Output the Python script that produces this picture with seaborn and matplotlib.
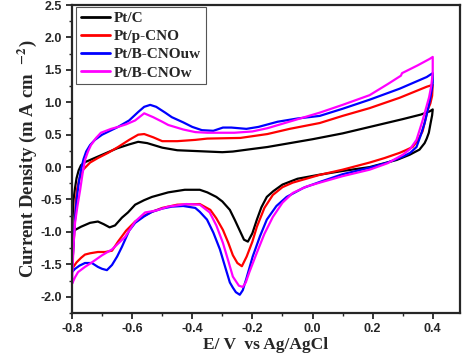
import matplotlib
matplotlib.use("Agg")
import matplotlib.pyplot as plt
from matplotlib.ticker import MultipleLocator, FormatStrFormatter
import pandas as pd
import seaborn as sns

# cyclic voltammograms, potential (V vs Ag/AgCl) and current density (mA cm-2)
# each loop: forward scan -0.8 -> 0.4, then reverse scan back to -0.8
ptc_e = [-0.800, -0.798, -0.795, -0.790, -0.785, -0.778, -0.770, -0.755, -0.740, -0.700,
         -0.650, -0.610, -0.580, -0.550, -0.500, -0.450, -0.400, -0.350, -0.300, -0.265,
         -0.200, -0.150, -0.075, 0.000, 0.100, 0.200, 0.300, 0.360, 0.390, 0.400,
         # reverse
         0.398, 0.393, 0.387, 0.380, 0.373, 0.356, 0.323, 0.280, 0.190, 0.100,
         0.020, -0.050, -0.100, -0.130, -0.152, -0.170, -0.185, -0.200, -0.215, -0.228,
         -0.240, -0.258, -0.275, -0.300, -0.320, -0.350, -0.375, -0.425, -0.480, -0.534,
         -0.560, -0.590, -0.614, -0.634, -0.657, -0.675, -0.695, -0.714, -0.740, -0.770,
         -0.790, -0.800]
ptc_j = [-1.02, -0.75, -0.50, -0.32, -0.17, -0.05, 0.03, 0.08, 0.11, 0.19,
         0.29, 0.35, 0.39, 0.37, 0.30, 0.26, 0.25, 0.24, 0.23, 0.24,
         0.28, 0.31, 0.37, 0.43, 0.52, 0.63, 0.74, 0.81, 0.86, 0.89,
         0.80, 0.68, 0.53, 0.44, 0.37, 0.27, 0.19, 0.11, 0.00, -0.06,
         -0.12, -0.18, -0.27, -0.37, -0.46, -0.62, -0.81, -1.02, -1.15, -1.12,
         -1.00, -0.82, -0.66, -0.53, -0.46, -0.39, -0.35, -0.35, -0.39, -0.46,
         -0.51, -0.58, -0.70, -0.78, -0.90, -0.93, -0.88, -0.84, -0.86, -0.92,
         -0.97, -1.02]

pcno_e = [-0.800, -0.797, -0.793, -0.790, -0.787, -0.783, -0.775, -0.763, -0.740, -0.714,
          -0.680, -0.647, -0.610, -0.580, -0.560, -0.530, -0.500, -0.450, -0.390, -0.350,
          -0.240, -0.150, -0.076, 0.024, 0.100, 0.190, 0.290, 0.380, 0.400,
          # reverse
          0.398, 0.392, 0.383, 0.373, 0.366, 0.350, 0.333, 0.310, 0.290, 0.240,
          0.190, 0.100, 0.024, -0.066, -0.100, -0.132, -0.160, -0.185, -0.200, -0.219,
          -0.235, -0.250, -0.265, -0.280, -0.298, -0.320, -0.340, -0.375, -0.450, -0.500,
          -0.534, -0.560, -0.590, -0.620, -0.647, -0.667, -0.690, -0.714, -0.740, -0.757,
          -0.770, -0.785, -0.800]
pcno_j = [-1.57, -1.35, -1.05, -0.77, -0.50, -0.33, -0.17, -0.04, 0.07, 0.14,
          0.22, 0.31, 0.42, 0.50, 0.51, 0.46, 0.40, 0.40, 0.42, 0.44,
          0.45, 0.51, 0.59, 0.68, 0.79, 0.91, 1.07, 1.24, 1.27,
          1.10, 0.98, 0.88, 0.68, 0.55, 0.41, 0.31, 0.26, 0.22, 0.14,
          0.07, -0.04, -0.12, -0.24, -0.31, -0.43, -0.63, -0.92, -1.15, -1.38,
          -1.53, -1.48, -1.36, -1.17, -0.97, -0.79, -0.66, -0.57, -0.58, -0.63,
          -0.69, -0.75, -0.84, -0.98, -1.15, -1.29, -1.31, -1.31, -1.33, -1.35,
          -1.40, -1.47, -1.57]

uw_e = [-0.800, -0.797, -0.793, -0.790, -0.787, -0.782, -0.777, -0.770, -0.762, -0.753,
        -0.740, -0.724, -0.700, -0.647, -0.610, -0.580, -0.560, -0.540, -0.520, -0.490,
        -0.468, -0.430, -0.400, -0.368, -0.330, -0.298, -0.270, -0.220, -0.180, -0.116,
        -0.050, 0.024, 0.100, 0.190, 0.290, 0.380, 0.400,
        # reverse
        0.400, 0.397, 0.390, 0.383, 0.373, 0.360, 0.346, 0.325, 0.300, 0.250,
        0.190, 0.100, 0.024, -0.030, -0.086, -0.120, -0.152, -0.175, -0.199, -0.220,
        -0.232, -0.242, -0.255, -0.265, -0.275, -0.290, -0.308, -0.330, -0.351, -0.375,
        -0.390, -0.430, -0.468, -0.500, -0.534, -0.560, -0.590, -0.610, -0.634, -0.650,
        -0.667, -0.684, -0.700, -0.714, -0.734, -0.757, -0.775, -0.790, -0.800]
uw_j = [-1.62, -1.35, -1.00, -0.80, -0.61, -0.40, -0.22, -0.04, 0.12, 0.24,
        0.34, 0.42, 0.50, 0.62, 0.72, 0.85, 0.93, 0.96, 0.93, 0.84,
        0.77, 0.69, 0.62, 0.57, 0.56, 0.61, 0.61, 0.59, 0.62, 0.70,
        0.75, 0.79, 0.90, 1.04, 1.21, 1.39, 1.45,
        1.30, 1.20, 1.02, 0.87, 0.68, 0.49, 0.31, 0.22, 0.16, 0.07,
        -0.01, -0.11, -0.23, -0.32, -0.46, -0.60, -0.81, -1.07, -1.38, -1.72,
        -1.90, -1.97, -1.93, -1.86, -1.78, -1.55, -1.27, -1.01, -0.81, -0.69,
        -0.63, -0.60, -0.61, -0.64, -0.69, -0.76, -0.86, -0.98, -1.23, -1.38,
        -1.51, -1.59, -1.57, -1.54, -1.48, -1.48, -1.52, -1.57, -1.62]

w_e = [-0.800, -0.798, -0.795, -0.790, -0.782, -0.773, -0.765, -0.757, -0.747, -0.737,
       -0.720, -0.704, -0.670, -0.647, -0.620, -0.590, -0.560, -0.530, -0.500, -0.480,
       -0.430, -0.390, -0.350, -0.260, -0.200, -0.150, -0.092, 0.024, 0.100, 0.190,
       0.250, 0.294, 0.298, 0.350, 0.390, 0.400,
       # reverse
       0.400, 0.395, 0.388, 0.379, 0.365, 0.346, 0.325, 0.300, 0.250, 0.190,
       0.100, 0.024, -0.020, -0.066, -0.100, -0.132, -0.160, -0.185, -0.210, -0.222,
       -0.232, -0.245, -0.265, -0.280, -0.298, -0.320, -0.342, -0.375, -0.420, -0.480,
       -0.520, -0.557, -0.590, -0.624, -0.667, -0.700, -0.737, -0.757, -0.780, -0.790,
       -0.800]
w_j = [-1.80, -1.55, -1.20, -0.86, -0.60, -0.35, -0.10, 0.11, 0.24, 0.34,
       0.45, 0.53, 0.59, 0.62, 0.66, 0.72, 0.83, 0.77, 0.70, 0.65,
       0.58, 0.54, 0.53, 0.53, 0.55, 0.60, 0.68, 0.84, 0.96, 1.11,
       1.28, 1.41, 1.45, 1.57, 1.67, 1.70,
       1.45, 1.25, 1.08, 0.93, 0.70, 0.42, 0.28, 0.19, 0.06, -0.04,
       -0.14, -0.24, -0.30, -0.40, -0.55, -0.77, -1.03, -1.32, -1.62, -1.78,
       -1.85, -1.83, -1.69, -1.45, -1.17, -0.90, -0.70, -0.58, -0.57, -0.61,
       -0.67, -0.70, -0.84, -1.08, -1.27, -1.36, -1.48, -1.54, -1.62, -1.70,
       -1.80]

samples = ["Pt/C", "Pt/p-CNO", "Pt/B-CNOuw", "Pt/B-CNOw"]
colors = ["#000000", "#ff0000", "#0000ff", "#ff00ff"]

frames = []
for name, e, j in zip(samples, [ptc_e, pcno_e, uw_e, w_e], [ptc_j, pcno_j, uw_j, w_j]):
    d = pd.DataFrame({"E": e, "J": j})
    d["sample"] = name
    frames.append(d)
cv = pd.concat(frames, ignore_index=True)

sns.set_style("ticks")
plt.rcParams["font.family"] = ["Liberation Sans", "DejaVu Sans"]
plt.rcParams["axes.unicode_minus"] = False
plt.rcParams["mathtext.fontset"] = "stix"

fig, ax = plt.subplots(figsize=(4.74, 3.63), dpi=100)
fig.subplots_adjust(left=0.152, right=0.970, bottom=0.138, top=0.986)

# draw each loop in scan order
sns.lineplot(data=cv, x="E", y="J", hue="sample", hue_order=samples,
             palette=dict(zip(samples, colors)), sort=False, estimator=None,
             units="sample", linewidth=1.6, ax=ax)

ax.set_xlim(-0.8, 0.49)
ax.set_ylim(-2.25, 2.5)
ax.xaxis.set_major_locator(MultipleLocator(0.2))
ax.xaxis.set_minor_locator(MultipleLocator(0.1))
ax.yaxis.set_major_locator(MultipleLocator(0.5))
ax.yaxis.set_minor_locator(MultipleLocator(0.25))
ax.xaxis.set_major_formatter(FormatStrFormatter("%.1f"))
ax.yaxis.set_major_formatter(FormatStrFormatter("%.1f"))
ax.tick_params(which="major", direction="out", length=4, width=1.3, labelsize=9)
ax.tick_params(which="minor", direction="out", length=2.5, width=1.0)
for lab in ax.get_xticklabels() + ax.get_yticklabels():
    lab.set_fontweight("bold")
for sp in ax.spines.values():
    sp.set_linewidth(1.6)
    sp.set_visible(True)

ax.set_xlabel("E/ V  vs Ag/AgCl", family="Liberation Serif", fontweight="bold",
              fontsize=12.5, labelpad=1)
ax.set_ylabel(r"Current Density (m A cm  $^{\mathbf{-2}}$)", family="Liberation Serif",
              fontweight="bold", fontsize=13.5, labelpad=1)

leg = ax.legend(loc="upper left", bbox_to_anchor=(0.01, 0.995), borderaxespad=0,
                fancybox=False, framealpha=1, edgecolor="#555555",
                prop={"family": "Liberation Serif", "weight": "bold", "size": 11},
                handlelength=1.9, handletextpad=0.3, labelspacing=0.3, borderpad=0.3)
leg.get_frame().set_linewidth(0.8)
for line in leg.get_lines():
    line.set_linewidth(2)

fig.savefig("out.png", dpi=100)
